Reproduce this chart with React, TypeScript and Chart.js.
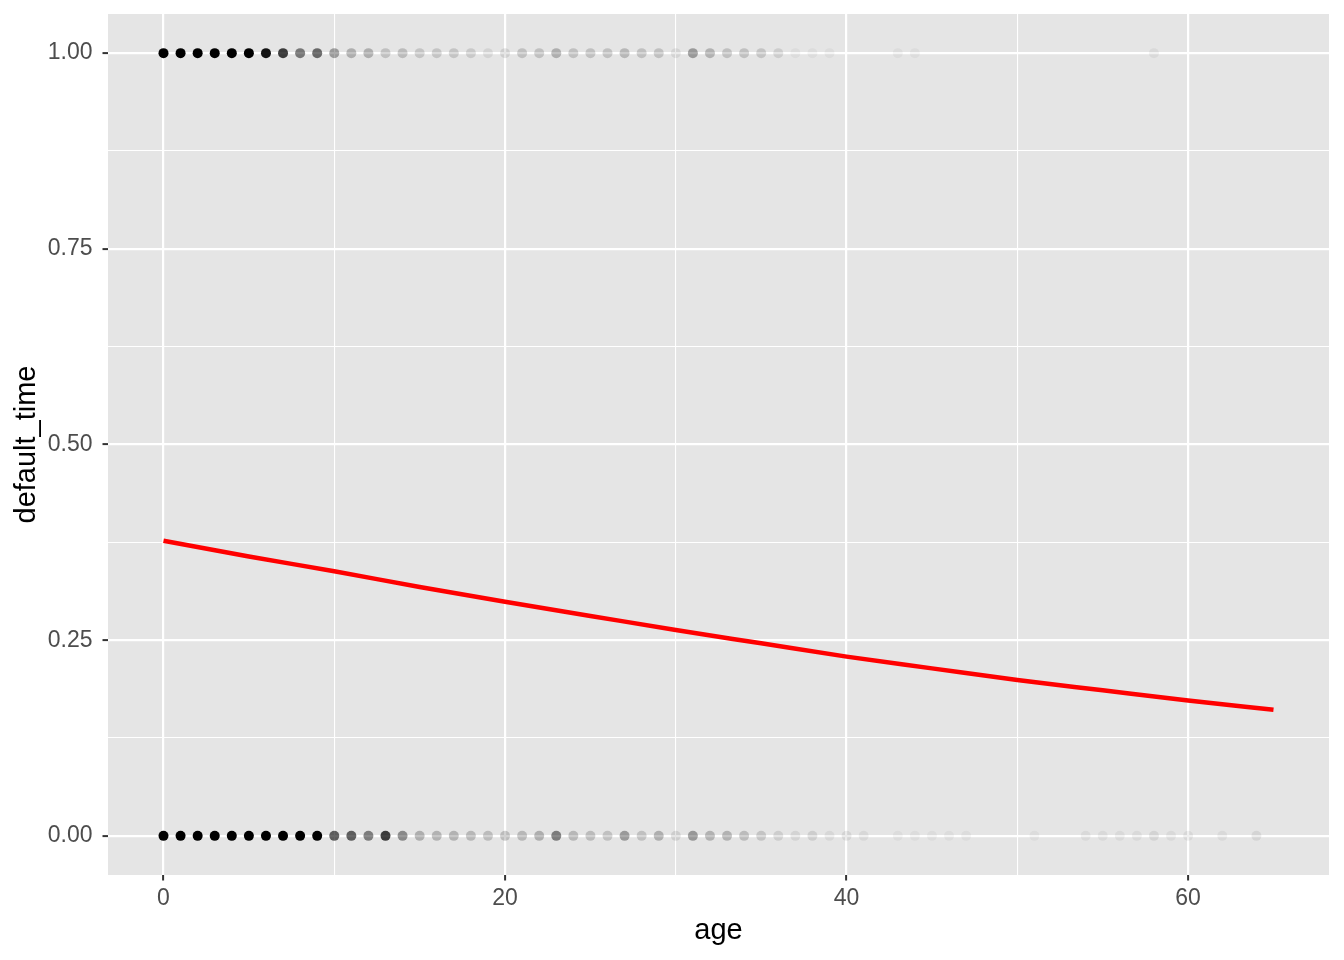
import React, { useEffect, useRef } from "react";
import { Chart, registerables } from "chart.js";
Chart.register(...registerables);

// Observed ages with default_time = 1 and their apparent point density (alpha)
const topAges = [0, 1, 2, 3, 4, 5, 6, 7, 8, 9, 10, 11, 12, 13, 14, 15, 16, 17, 18, 19, 20, 21, 22, 23, 24, 25, 26, 27, 28, 29, 30, 31, 32, 33, 34, 35, 36, 37, 38, 39, 43, 44, 58];
const topAlpha = [1, 1, 1, 1, 1, 1, 0.92, 0.74, 0.48, 0.55, 0.33, 0.24, 0.24, 0.16, 0.18, 0.14, 0.14, 0.14, 0.12, 0.08, 0.1, 0.16, 0.16, 0.24, 0.16, 0.16, 0.16, 0.2, 0.16, 0.16, 0.08, 0.33, 0.22, 0.16, 0.16, 0.14, 0.1, 0.04, 0.04, 0.04, 0.04, 0.04, 0.05];

// Observed ages with default_time = 0
const bottomAges = [0, 1, 2, 3, 4, 5, 6, 7, 8, 9, 10, 11, 12, 13, 14, 15, 16, 17, 18, 19, 20, 21, 22, 23, 24, 25, 26, 27, 28, 29, 30, 31, 32, 33, 34, 35, 36, 37, 38, 39, 40, 41, 43, 44, 45, 46, 47, 51, 54, 55, 56, 57, 58, 59, 60, 62, 64];
const bottomAlpha = [1, 1, 1, 1, 1, 1, 1, 1, 1, 1, 0.6, 0.6, 0.46, 0.74, 0.4, 0.24, 0.22, 0.22, 0.2, 0.18, 0.18, 0.2, 0.24, 0.46, 0.2, 0.18, 0.16, 0.33, 0.16, 0.24, 0.1, 0.34, 0.22, 0.22, 0.18, 0.14, 0.1, 0.08, 0.1, 0.06, 0.08, 0.06, 0.04, 0.04, 0.04, 0.04, 0.04, 0.04, 0.05, 0.05, 0.05, 0.05, 0.08, 0.05, 0.06, 0.05, 0.07];

// Fitted logistic curve
const fitAges = [0, 5, 10, 15, 20, 25, 30, 35, 40, 45, 50, 55, 60, 65];
const fitProb = [0.377, 0.357, 0.338, 0.318, 0.299, 0.281, 0.263, 0.246, 0.229, 0.214, 0.199, 0.186, 0.173, 0.161];

const xTickValues = [0, 10, 20, 30, 40, 50, 60];
const xMajorLabels = [0, 20, 40, 60];
const yTickValues = [0, 0.125, 0.25, 0.375, 0.5, 0.625, 0.75, 0.875, 1];
const yMajorLabels = ["0.00", "0.25", "0.50", "0.75", "1.00"];

const FONT = "'Liberation Sans', Arial, Helvetica, sans-serif";

export default function App() {
  const ref = useRef<HTMLCanvasElement>(null);
  useEffect(() => {
    if (!ref.current) return;
    const isXMajor = (v: number) => xMajorLabels.includes(v);
    const isYMajor = (v: number) => Math.abs(v * 4 - Math.round(v * 4)) < 1e-9;
    const bgPlugin = {
      id: "panelBg",
      beforeDraw(chart: any) {
        const { ctx, chartArea: a } = chart;
        ctx.save();
        ctx.fillStyle = "#E5E5E5";
        ctx.fillRect(a.left, a.top, a.right - a.left, a.bottom - a.top);
        ctx.restore();
      },
    };
    const chart = new Chart(ref.current, {
      type: "scatter",
      data: {
        datasets: [
          {
            type: "line",
            label: "fit",
            data: fitAges.map((x, i) => ({ x, y: fitProb[i] })),
            borderColor: "#FF0000",
            borderWidth: 4.5,
            pointRadius: 0,
            cubicInterpolationMode: "monotone",
            fill: false,
          } as any,
          {
            label: "one",
            data: topAges.map((x) => ({ x, y: 1 })),
            pointRadius: 5,
            pointBorderWidth: 0,
            pointBackgroundColor: topAlpha.map((a) => `rgba(0,0,0,${a})`),
          },
          {
            label: "zero",
            data: bottomAges.map((x) => ({ x, y: 0 })),
            pointRadius: 5,
            pointBorderWidth: 0,
            pointBackgroundColor: bottomAlpha.map((a) => `rgba(0,0,0,${a})`),
          },
        ],
      },
      options: {
        responsive: false,
        animation: false,
        layout: { padding: { top: 14, right: 15, left: 0, bottom: 0 } },
        plugins: { legend: { display: false }, tooltip: { enabled: false } },
        scales: {
          x: {
            type: "linear",
            min: -3.25,
            max: 68.25,
            afterBuildTicks: (scale: any) => {
              scale.ticks = xTickValues.map((v) => ({ value: v }));
            },
            afterFit: (scale: any) => {
              scale.height = 85;
              scale.paddingLeft = 0;
              scale.paddingRight = 0;
            },
            border: { display: false },
            grid: {
              color: "#FFFFFF",
              lineWidth: (c: any) => (isXMajor(c.tick.value) ? 2.2 : 1.1),
              tickColor: (c: any) => (isXMajor(c.tick.value) ? "#333333" : "rgba(0,0,0,0)"),
              tickWidth: 2,
              tickLength: 5.5,
            },
            ticks: {
              autoSkip: false,
              maxRotation: 0,
              padding: 4,
              color: "#4D4D4D",
              font: { family: FONT, size: 23 },
              callback: (v: any) => (isXMajor(Number(v)) ? String(v) : ""),
            },
            title: {
              display: true,
              text: "age",
              color: "#000000",
              font: { family: FONT, size: 29 },
              padding: { top: 0, bottom: 12 },
            },
          },
          y: {
            type: "linear",
            min: -0.05,
            max: 1.05,
            afterBuildTicks: (scale: any) => {
              scale.ticks = yTickValues.map((v) => ({ value: v }));
            },
            afterFit: (scale: any) => {
              scale.width = 108;
              scale.paddingTop = 0;
              scale.paddingBottom = 0;
            },
            border: { display: false },
            grid: {
              color: "#FFFFFF",
              lineWidth: (c: any) => (isYMajor(c.tick.value) ? 2.2 : 1.1),
              tickColor: (c: any) => (isYMajor(c.tick.value) ? "#333333" : "rgba(0,0,0,0)"),
              tickWidth: 2,
              tickLength: 5.5,
            },
            ticks: {
              autoSkip: false,
              padding: 10,
              color: "#4D4D4D",
              font: { family: FONT, size: 23 },
              callback: (v: any) => {
                const n = Number(v);
                return isYMajor(n) ? yMajorLabels[Math.round(n * 4)] : "";
              },
            },
            title: {
              display: true,
              text: "default_time",
              color: "#000000",
              font: { family: FONT, size: 29 },
              padding: { top: 10, bottom: 0 },
            },
          },
        },
      } as any,
      plugins: [bgPlugin],
    });
    return () => chart.destroy();
  }, []);
  return (
    <div style={{ position: "fixed", left: 0, top: 0, width: 1344, height: 960, background: "#FFFFFF" }}>
      <canvas ref={ref} width={1344} height={960} style={{ display: "block" }} />
    </div>
  );
}
